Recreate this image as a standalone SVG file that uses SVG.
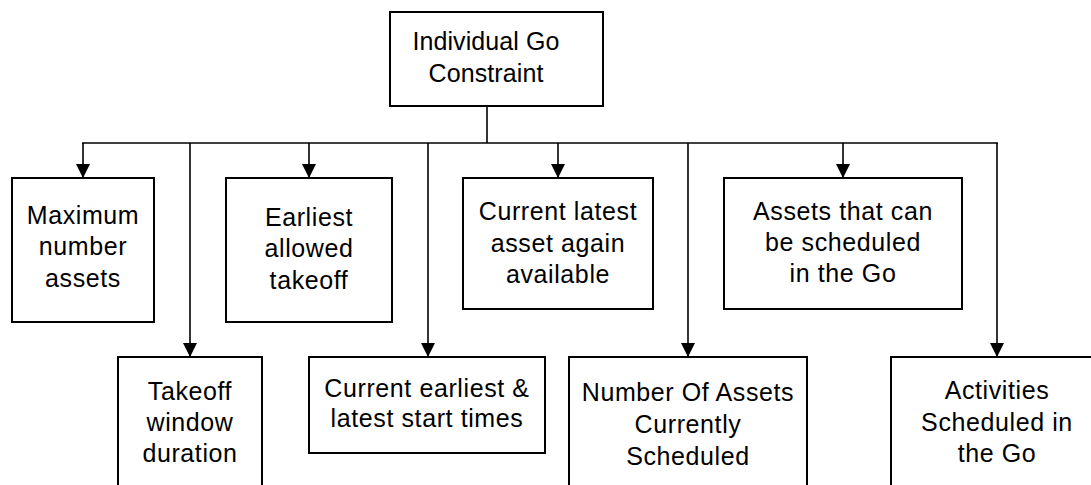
<svg xmlns="http://www.w3.org/2000/svg" width="1091" height="485" viewBox="0 0 1091 485">
  <defs>
    <marker id="arrow" viewBox="0 0 14 14" refX="14" refY="7" markerWidth="14" markerHeight="14" markerUnits="userSpaceOnUse" orient="auto">
      <path d="M0,0 L14,7 L0,14 Z" fill="#000"/>
    </marker>
    <style>
      rect { fill: #fff; stroke: #000; stroke-width: 2; }
      .link { fill: none; stroke: #000; stroke-width: 1.6; }
      text { font-family: "Liberation Sans", Arial, sans-serif; font-size: 25px; letter-spacing: 0.6px; text-anchor: middle; fill: #000; }
      .title { font-size: 25px; letter-spacing: 0.1px; }
    </style>
  </defs>
  <rect x="0" y="0" width="1091" height="485" style="stroke:none"/>

  <!-- connectors -->
  <g id="connectors">
    <line class="link" x1="487" y1="106" x2="487" y2="143"/>
    <line class="link" x1="82" y1="143" x2="998" y2="143"/>
    <line class="link" x1="83" y1="143" x2="83" y2="178" marker-end="url(#arrow)"/>
    <line class="link" x1="190" y1="143" x2="190" y2="357" marker-end="url(#arrow)"/>
    <line class="link" x1="309" y1="143" x2="309" y2="178" marker-end="url(#arrow)"/>
    <line class="link" x1="428" y1="143" x2="428" y2="357" marker-end="url(#arrow)"/>
    <line class="link" x1="558" y1="143" x2="558" y2="178" marker-end="url(#arrow)"/>
    <line class="link" x1="688" y1="143" x2="688" y2="357" marker-end="url(#arrow)"/>
    <line class="link" x1="843" y1="143" x2="843" y2="178" marker-end="url(#arrow)"/>
    <line class="link" x1="997" y1="143" x2="997" y2="357" marker-end="url(#arrow)"/>
  </g>

  <!-- root -->
  <g id="individual-go-constraint">
    <rect x="390" y="12" width="213" height="94"/>
    <text class="title" x="486" y="50">Individual Go</text>
    <text class="title" x="486" y="82">Constraint</text>
  </g>

  <!-- first row -->
  <g id="maximum-number-assets">
    <rect x="12" y="178" width="142" height="144"/>
    <text x="83" y="224">Maximum</text>
    <text x="83" y="255">number</text>
    <text x="83" y="287">assets</text>
  </g>
  <g id="earliest-allowed-takeoff">
    <rect x="226" y="178" width="166" height="144"/>
    <text x="309" y="226">Earliest</text>
    <text x="309" y="257">allowed</text>
    <text x="309" y="289">takeoff</text>
  </g>
  <g id="current-latest-asset">
    <rect x="463" y="178" width="190" height="131"/>
    <text x="558" y="220">Current latest</text>
    <text x="558" y="252">asset again</text>
    <text x="558" y="283">available</text>
  </g>
  <g id="assets-schedulable">
    <rect x="724" y="178" width="238" height="131"/>
    <text x="843" y="220">Assets that can</text>
    <text x="843" y="251">be scheduled</text>
    <text x="843" y="282">in the Go</text>
  </g>

  <!-- second row -->
  <g id="takeoff-window-duration">
    <rect x="118" y="357" width="144" height="140"/>
    <text x="190" y="400">Takeoff</text>
    <text x="190" y="431">window</text>
    <text x="190" y="462">duration</text>
  </g>
  <g id="current-start-times">
    <rect x="309" y="357" width="236" height="96"/>
    <text x="427" y="397">Current earliest &amp;</text>
    <text x="427" y="427">latest start times</text>
  </g>
  <g id="number-of-assets">
    <rect x="569" y="357" width="238" height="140"/>
    <text x="688" y="401">Number Of Assets</text>
    <text x="688" y="433">Currently</text>
    <text x="688" y="465">Scheduled</text>
  </g>
  <g id="activities-scheduled">
    <rect x="891" y="357" width="212" height="140"/>
    <text x="997" y="399">Activities</text>
    <text x="997" y="431">Scheduled in</text>
    <text x="997" y="462">the Go</text>
  </g>
</svg>
